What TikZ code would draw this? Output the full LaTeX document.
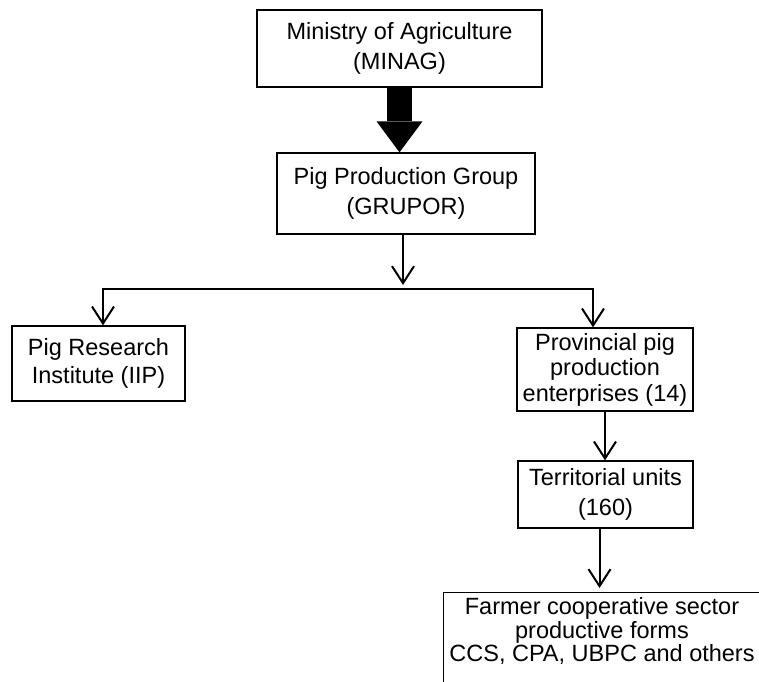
\documentclass[tikz,border=0pt]{standalone}
\usepackage{fontspec}
\setmainfont{Liberation Sans}
\usetikzlibrary{arrows.meta}

\begin{document}
\begin{tikzpicture}
  [x=1pt, y=-1pt, >={Straight Barb[length=17pt, width=22pt]},
   font=\fontsize{23.5}{30}\selectfont,
   box/.style={draw, line width=1.3pt, inner sep=0pt, align=center},
   link/.style={->, line width=2pt},
   bigarrow/.style={line width=25pt, -{Triangle[length=31pt, width=46pt, line width=0pt]}}]
  \useasboundingbox (0, 0) rectangle (759, 681);
  \clip (0, 0) rectangle (759, 681);

  \node [box, minimum width=285pt, minimum height=77pt] (minag) at (399.5, 48.5) {Ministry of Agriculture\\(MINAG)};
  \node [box, minimum width=258pt, minimum height=81pt] (grupor) at (406, 193.5) {Pig Production Group\\(GRUPOR)};
  \node [box, minimum width=173pt, minimum height=75pt, font=\fontsize{23.5}{28}\selectfont] (iip) at (98.5, 363.5) {Pig Research\\Institute (IIP)};
  \node [box, minimum width=176pt, minimum height=83pt, font=\fontsize{23.5}{25.5}\selectfont] (prov) at (605, 369.5) {Provincial pig\\production\\enterprises (14)};
  \node [box, minimum width=175pt, minimum height=67pt] (terr) at (605.5, 494.5) {Territorial units\\(160)};
  \node [box, anchor=north west, minimum width=330pt, minimum height=120pt] (farmer) at (443, 592) {};
  \node [align=center, font=\fontsize{23.5}{23.5}\selectfont] (forms) at (602, 631) {Farmer cooperative sector\\productive forms\\CCS, CPA, UBPC and others};

  \coordinate (hub) at (403, 289);

  \draw [bigarrow] (minag.south) -- (minag.south |- grupor.north);
  \draw [link] (grupor.south -| hub) -- ([yshift=4pt]hub);
  \draw [link] (hub) -| ([xshift=4.5pt]iip.north);
  \draw [link] (hub) -| ([xshift=-12pt]prov.north);
  \draw [link] (prov.south) -- (prov.south |- terr.north);
  \draw [link] ([xshift=-6pt]terr.south) -- ([xshift=-6pt, yshift=4pt]terr.south |- farmer.north);
\end{tikzpicture}
\end{document}
